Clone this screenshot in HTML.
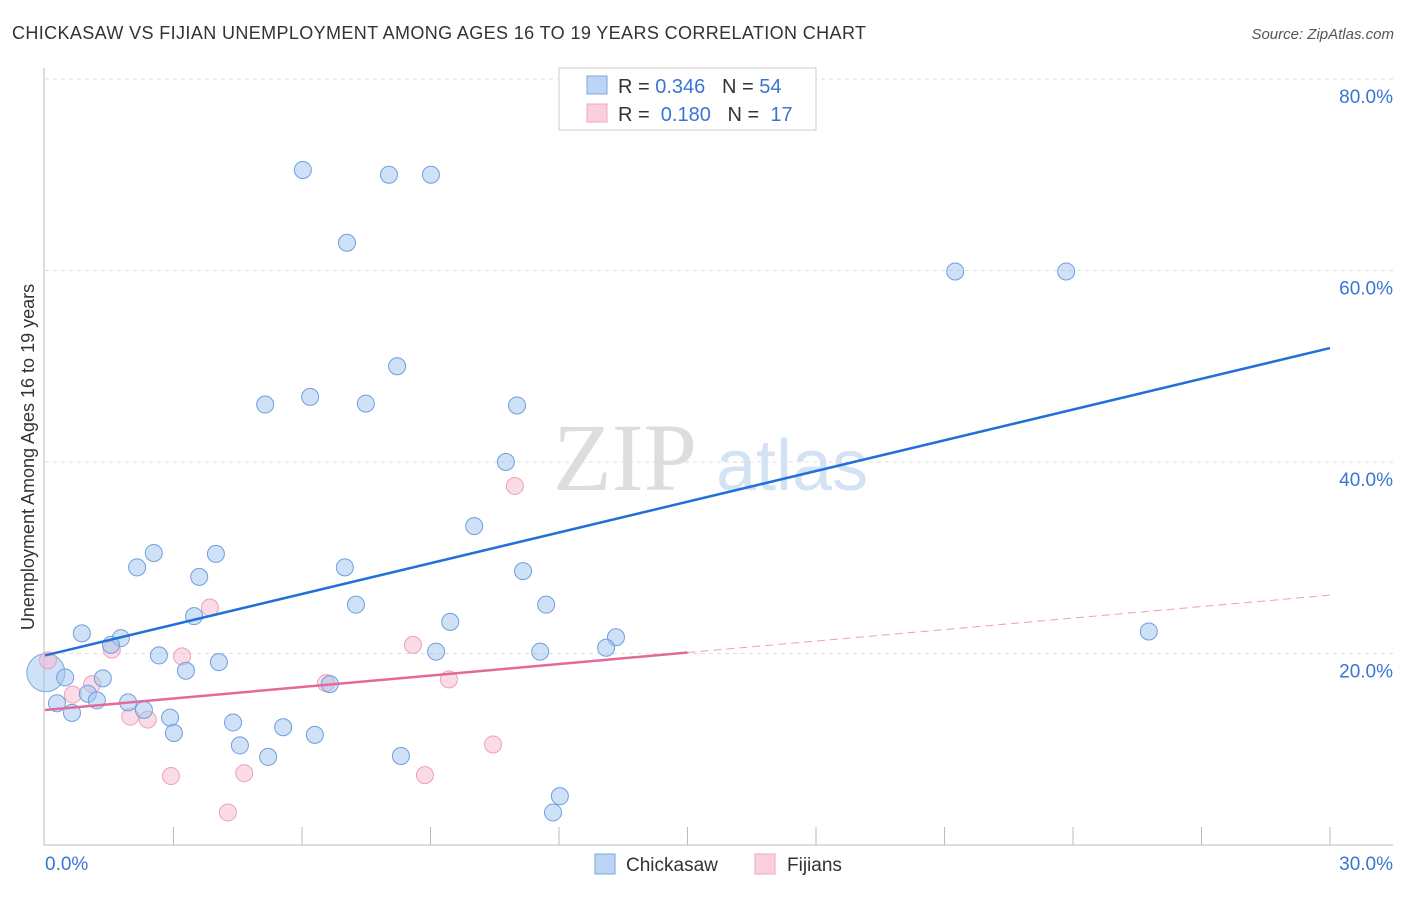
<!DOCTYPE html>
<html><head><meta charset="utf-8"><style>
body{margin:0;background:#fff;font-family:"Liberation Sans",sans-serif}
</style></head><body>
<svg id="c" width="1406" height="892" xmlns="http://www.w3.org/2000/svg" font-family="Liberation Sans, sans-serif">
<text x="12" y="39" font-size="18" fill="#333" textLength="854" lengthAdjust="spacing">CHICKASAW VS FIJIAN UNEMPLOYMENT AMONG AGES 16 TO 19 YEARS CORRELATION CHART</text>
<text x="1394" y="39" font-size="15" fill="#555" text-anchor="end" font-style="italic">Source: ZipAtlas.com</text>
<text x="553" y="490" font-size="96" fill="#ddd" font-family="Liberation Serif, serif">ZIP</text>
<text x="716" y="490" font-size="72" fill="#d3e2f5">atlas</text>
<text transform="translate(34,457) rotate(-90)" font-size="18" fill="#333" text-anchor="middle">Unemployment Among Ages 16 to 19 years</text>
<g id="grid"></g><g id="marks"></g>
<g>
<rect x="559" y="68" width="257" height="62" fill="#fff" stroke="#ccc"/>
<rect x="587" y="76" width="20" height="18" fill="#bcd4f5" stroke="#7ea6e0"/>
<rect x="587" y="104" width="20" height="18" fill="#fbcfdc" stroke="#f0a8be"/>
<text x="618" y="93" font-size="20" fill="#333">R = <tspan fill="#3a75d6">0.346</tspan>&#160;&#160;&#160;N = <tspan fill="#3a75d6">54</tspan></text>
<text x="618" y="121" font-size="20" fill="#333">R = &#160;<tspan fill="#3a75d6">0.180</tspan>&#160;&#160;&#160;N = &#160;<tspan fill="#3a75d6">17</tspan></text>
</g>
<g>
<rect x="595" y="854" width="20" height="20" fill="#bcd4f5" stroke="#7ea6e0"/>
<text x="626" y="871" font-size="19" fill="#333">Chickasaw</text>
<rect x="755" y="854" width="20" height="20" fill="#fbcfdc" stroke="#f0a8be"/>
<text x="787" y="871" font-size="19" fill="#333">Fijians</text>
</g>
</svg>
<script>
const xTicks=[0,30];
const yTicks=[20,40,60,80];
const blueX=[6.02,8.03,9.01,7.05,21.25,23.84,8.22,5.14,6.19,7.49,11.02,10.76,10.02,2.54,3.99,2.15,7.00,11.16,3.60,7.26,11.70,3.48,9.46,0.86,25.77,1.77,13.33,1.54,13.10,9.13,11.56,2.66,4.06,3.29,0.47,1.35,6.65,1.00,1.21,0.28,1.94,2.31,0.63,2.92,4.39,3.01,5.56,6.30,4.55,5.21,8.31,12.02,11.86];
const blueY=[70.5,70.0,70.0,62.9,59.9,59.9,50.0,46.0,46.8,46.1,45.9,40.0,33.3,30.5,30.4,29.0,29.0,28.6,28.0,25.1,25.1,23.9,23.3,22.1,22.3,21.6,21.7,20.9,20.6,20.2,20.2,19.8,19.1,18.2,17.5,17.4,16.8,15.8,15.1,14.8,14.9,14.1,13.8,13.3,12.8,11.7,12.3,11.5,10.4,9.2,9.3,5.1,3.4];
const pinkX=[0.07,1.56,0.65,1.10,1.99,2.40,3.20,3.85,2.94,4.65,4.27,6.56,8.59,9.43,8.87,10.46,10.97];
const pinkY=[19.3,20.4,15.7,16.8,13.4,13.1,19.7,24.8,7.2,7.5,3.4,16.9,20.9,17.3,7.3,10.5,37.5];
const bigX=[0.02], bigY=[18.0];
const blueTrend=[19.8,51.9];
const pinkTrend=[14.1,26.1];
const X=v=>45+v/30*1285, Y=v=>845-v/20*191.5;
const NS='http://www.w3.org/2000/svg';
const g=document.getElementById('grid'), m=document.getElementById('marks');
function mk(tag,at,parent){const e=document.createElementNS(NS,tag);for(const k in at)e.setAttribute(k,at[k]);parent.appendChild(e);return e;}
yTicks.forEach(t=>{
 const l=mk('line',{x1:45,x2:1393,y1:Y(t),y2:Y(t),stroke:'#ddd','stroke-dasharray':'4,4'},g);
 
 
 const tx=mk('text',{x:1393,y:Y(t)+24,'font-size':19,fill:'#3a75d6','text-anchor':'end'},g);tx.textContent=t.toFixed(1)+'%';
 
 
});
const ax=mk('path',{d:'M44,68 V845 H1393',fill:'none',stroke:'#bbb'},g);


for(let i=1;i<=10;i++){const t=mk('line',{x1:X(i*3),x2:X(i*3),y1:827,y2:845,stroke:'#bbb'},g);
 
 }
xTicks.forEach((t,i)=>{const tx=mk('text',{x:i?1393:45,y:870,'font-size':19,fill:'#3a75d6','text-anchor':i?'end':'start'},g);tx.textContent=t.toFixed(1)+'%';
 
 });
bigX.forEach((v,i)=>{const c=mk('circle',{cx:X(v),cy:Y(bigY[i]),r:19,fill:'rgba(160,196,240,0.5)',stroke:'#7ea6e0'},m);
 
 });
pinkX.forEach((v,i)=>{const c=mk('circle',{cx:X(v),cy:Y(pinkY[i]),r:8.5,fill:'rgba(248,185,205,0.5)',stroke:'#eea0b8'},m);
 
 });
blueX.forEach((v,i)=>{const c=mk('circle',{cx:X(v),cy:Y(blueY[i]),r:8.5,fill:'rgba(160,196,240,0.5)',stroke:'#6f9ee0'},m);
 
 });
const pm=pinkTrend[0]+(pinkTrend[1]-pinkTrend[0])/2;
let l=mk('line',{x1:X(0),y1:Y(pinkTrend[0]),x2:X(15),y2:Y(pm),stroke:'#e4689a','stroke-width':2.5},m);


l=mk('line',{x1:X(15),y1:Y(pm),x2:X(30),y2:Y(pinkTrend[1]),stroke:'#e8a0bb','stroke-width':1,'stroke-dasharray':'8,5'},m);


l=mk('line',{x1:X(0),y1:Y(blueTrend[0]),x2:X(30),y2:Y(blueTrend[1]),stroke:'#2170d8','stroke-width':2.5},m);


</script>
</body></html>
